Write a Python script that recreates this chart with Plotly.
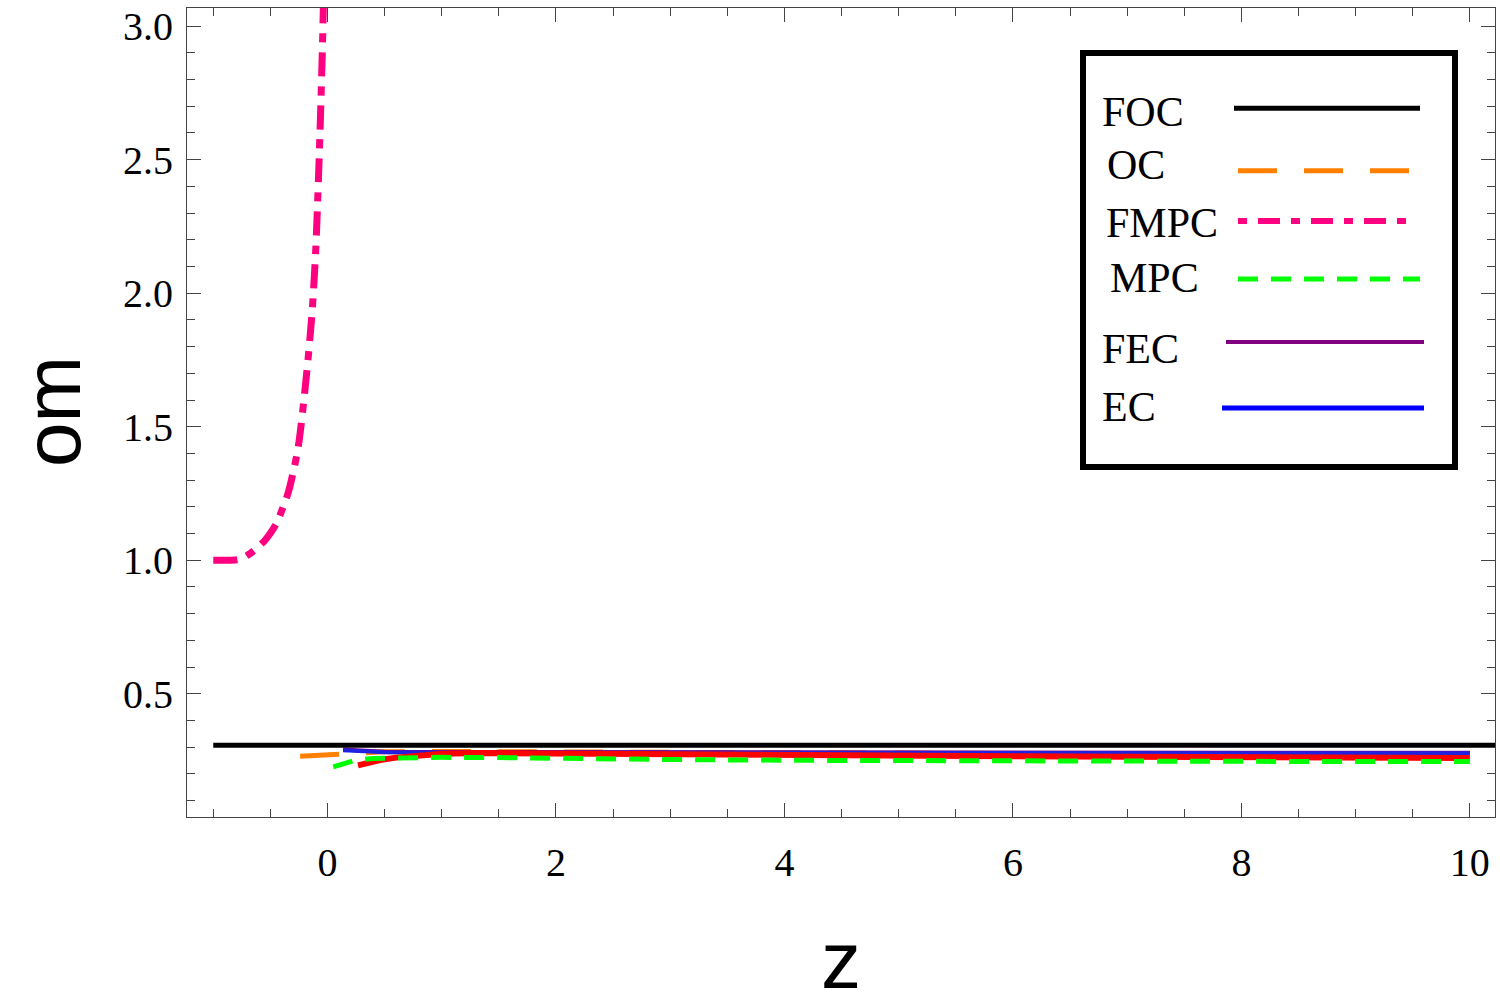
import plotly.graph_objects as go

# ---------------- data ----------------
foc_x = [-1.0, 10.5]
foc_y = [0.307, 0.307]

oc_x = [-0.24, 0.0, 0.2, 0.5, 1.0, 2.0, 4.0, 6.0, 8.0, 10.0]
oc_y = [0.266, 0.270, 0.277, 0.283, 0.284, 0.282, 0.278, 0.275, 0.272, 0.270]

fmpc_x = [-1.0, -0.854, -0.766, -0.679, -0.547, -0.445, -0.401, -0.343, -0.308,
          -0.256, -0.191, -0.138, -0.103, -0.066, -0.037, -0.028]
fmpc_y = [1.0, 1.0, 1.004, 1.025, 1.075, 1.139, 1.185, 1.255, 1.315,
          1.425, 1.664, 1.912, 2.163, 2.6, 3.06, 3.4]

mpc_x = [0.05, 0.15, 0.25, 0.4, 0.7, 1.0, 1.5, 2.0, 3.0, 4.0, 5.0, 6.0, 8.0, 10.0]
mpc_y = [0.226, 0.240, 0.252, 0.258, 0.262, 0.262, 0.261, 0.258, 0.254, 0.251,
         0.249, 0.248, 0.247, 0.246]

fec_x = [0.136, 0.3, 0.5, 1.0, 2.0, 4.0, 6.0, 8.0, 10.0]
fec_y = [0.291, 0.286, 0.283, 0.282, 0.281, 0.280, 0.280, 0.279, 0.279]

ec_x = [0.136, 0.3, 0.5, 1.0, 2.0, 4.0, 6.0, 8.0, 10.0]
ec_y = [0.289, 0.284, 0.281, 0.280, 0.279, 0.278, 0.278, 0.277, 0.277]

red_x = [0.267, 0.35, 0.46, 0.6, 0.75, 1.0, 1.3, 2.0, 3.0, 4.0, 5.0, 6.0, 7.0,
         8.0, 9.0, 10.0]
red_y = [0.232, 0.243, 0.252, 0.261, 0.268, 0.275, 0.278, 0.277, 0.275, 0.272,
         0.269, 0.266, 0.264, 0.262, 0.261, 0.260]

x_ticks = [0, 2, 4, 6, 8, 10]
y_ticks = [0.5, 1.0, 1.5, 2.0, 2.5, 3.0]
y_ticktext = ["0.5", "1.0", "1.5", "2.0", "2.5", "3.0"]

legend_names = ["FOC", "OC", "FMPC", "MPC", "FEC", "EC"]

# ---------------- figure ----------------
W, H = 1500, 1005
L, R, T, B = 187, 5, 8, 188
PW, PH = W - L - R, H - T - B


def px2paper_x(px):
    return (px - L) / PW


def px2paper_y(py):
    return (H - B - py) / PH


fig = go.Figure()

fig.add_trace(go.Scatter(x=oc_x, y=oc_y, mode="lines", name="OC",
                         line=dict(color="#FF8000", width=5, dash="39px,27px")))
fig.add_trace(go.Scatter(x=fec_x, y=fec_y, mode="lines", name="FEC",
                         line=dict(color="#800080", width=4)))
fig.add_trace(go.Scatter(x=ec_x, y=ec_y, mode="lines", name="EC",
                         line=dict(color="#2020E0", width=4)))
fig.add_trace(go.Scatter(x=red_x, y=red_y, mode="lines", name="red",
                         line=dict(color="#FF0000", width=6)))
fig.add_trace(go.Scatter(x=mpc_x, y=mpc_y, mode="lines", name="MPC",
                         line=dict(color="#00FF00", width=5, dash="20px,13px")))
fig.add_trace(go.Scatter(x=foc_x, y=foc_y, mode="lines", name="FOC",
                         line=dict(color="#000000", width=5)))
fig.add_trace(go.Scatter(x=fmpc_x, y=fmpc_y, mode="lines", name="FMPC",
                         line=dict(color="#FF0080", width=7, shape="spline",
                                   smoothing=0.8,
                                   dash="24px,10px,9px,10px")))

axis_common = dict(
    showgrid=False, zeroline=False, showline=True, linecolor="#444444",
    linewidth=1, mirror="ticks", ticks="inside", tickcolor="#444444",
    tickwidth=1, ticklen=14, ticklabeloverflow="allow", automargin=False,
    tickfont=dict(family="Liberation Serif", size=40, color="black"),
)

fig.update_xaxes(range=[-1.23, 10.22], tickvals=x_ticks,
                 minor=dict(tick0=0, dtick=0.5, ticks="inside", ticklen=8,
                            tickcolor="#444444", tickwidth=1),
                 ticklabelstandoff=10, **axis_common)
fig.update_yaxes(range=[0.0386, 3.068], tickvals=y_ticks, ticktext=y_ticktext,
                 minor=dict(tick0=0, dtick=0.1, ticks="inside", ticklen=8,
                            tickcolor="#444444", tickwidth=1),
                 ticklabelstandoff=5, **axis_common)

# axis titles
annotations = [
    dict(text="z", xref="paper", yref="paper", x=px2paper_x(841),
         y=px2paper_y(960), xanchor="center", yanchor="middle", showarrow=False,
         font=dict(family="Liberation Sans", size=80, color="black")),
    dict(text="om", xref="paper", yref="paper", x=px2paper_x(52),
         y=px2paper_y(412), xanchor="center", yanchor="middle", showarrow=False,
         textangle=-90,
         font=dict(family="Liberation Sans", size=80, color="black")),
]

# custom legend (text on the left, line sample on the right)
leg_text_px = [(1100, 111.7), (1105, 165), (1104, 223), (1108, 278),
               (1100, 349), (1100, 407)]
leg_line_px = [(1234, 1420, 108.3), (1238, 1412, 170.7), (1238, 1412, 221),
               (1238, 1420, 279), (1226, 1424, 342), (1222, 1424, 408)]
leg_style = [
    dict(color="#000000", width=5, dash="solid"),
    dict(color="#FF8000", width=5, dash="39px,27px"),
    dict(color="#FF0080", width=6, dash="9px,11px,22px,11px"),
    dict(color="#00FF00", width=5, dash="20px,13px"),
    dict(color="#800080", width=4, dash="solid"),
    dict(color="#0000FF", width=5, dash="solid"),
]

shapes = [dict(type="rect", xref="paper", yref="paper",
               x0=px2paper_x(1083), x1=px2paper_x(1455),
               y0=px2paper_y(467), y1=px2paper_y(53),
               line=dict(color="black", width=6), fillcolor="white", layer="above")]

for name, (tx, ty), (lx0, lx1, ly), st in zip(legend_names, leg_text_px,
                                               leg_line_px, leg_style):
    annotations.append(dict(text=name, xref="paper", yref="paper",
                            x=px2paper_x(tx), y=px2paper_y(ty),
                            xanchor="left", yanchor="middle", showarrow=False,
                            font=dict(family="Liberation Serif", size=42,
                                      color="black")))
    shapes.append(dict(type="line", xref="paper", yref="paper",
                       x0=px2paper_x(lx0), x1=px2paper_x(lx1),
                       y0=px2paper_y(ly), y1=px2paper_y(ly),
                       line=st, layer="above"))

fig.update_layout(
    width=W, height=H,
    margin=dict(l=L, r=R, t=T, b=B, autoexpand=False),
    paper_bgcolor="white", plot_bgcolor="white",
    showlegend=False,
    annotations=annotations,
    shapes=shapes,
)

fig.write_html("out.html",
               config={"displayModeBar": False},
               post_script="document.body.style.margin='0';"
                           "document.body.style.overflow='hidden';")
